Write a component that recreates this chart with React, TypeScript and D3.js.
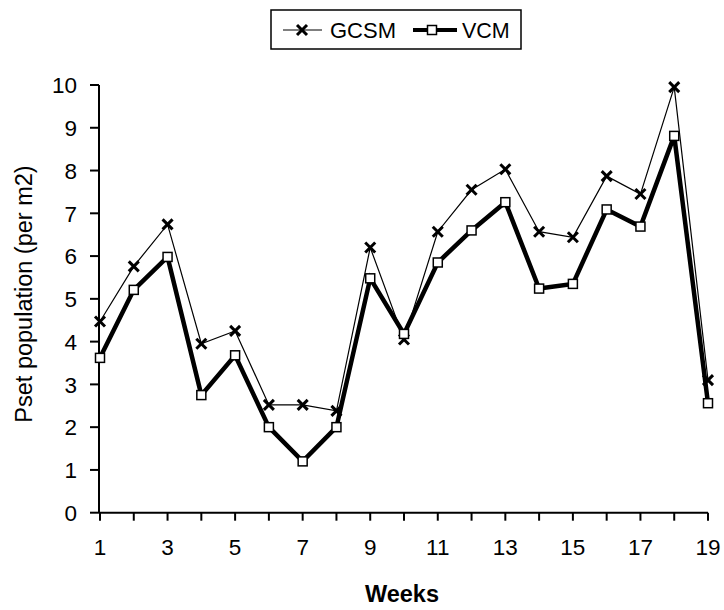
import React from "react";
import * as d3 from "d3";

const weeks = [1, 2, 3, 4, 5, 6, 7, 8, 9, 10, 11, 12, 13, 14, 15, 16, 17, 18, 19];
const gcsm = [4.47, 5.76, 6.74, 3.95, 4.25, 2.52, 2.52, 2.38, 6.2, 4.05, 6.57, 7.55, 8.03, 6.57, 6.44, 7.87, 7.45, 9.95, 3.1];
const vcm = [3.62, 5.21, 5.98, 2.75, 3.68, 2.0, 1.2, 2.0, 5.48, 4.18, 5.85, 6.6, 7.26, 5.24, 5.35, 7.09, 6.69, 8.81, 2.56];
const yTicks = [0, 1, 2, 3, 4, 5, 6, 7, 8, 9, 10];
const xLabelTicks = [1, 3, 5, 7, 9, 11, 13, 15, 17, 19];

const W = 724;
const H = 610;
const font = "Liberation Sans, Arial, sans-serif";

export default function App() {
  const x = d3.scaleLinear().domain([1, 19]).range([100, 708]);
  const y = d3.scaleLinear().domain([0, 10]).range([512.7, 85]);
  const line = d3
    .line<number>()
    .x((_, i) => x(weeks[i]))
    .y((d) => y(d));

  const cross = (cx: number, cy: number, key: string) => (
    <g key={key} stroke="#000" strokeWidth={3} strokeLinecap="butt">
      <line x1={cx - 5} y1={cy - 5} x2={cx + 5} y2={cy + 5} />
      <line x1={cx - 5} y1={cy + 5} x2={cx + 5} y2={cy - 5} />
    </g>
  );

  return (
    <svg width={W} height={H} style={{ position: "absolute", left: 0, top: 0, background: "#fff" }}>
      <rect x={0} y={0} width={W} height={H} fill="#fff" />
      {/* axes */}
      <line x1={x(1) - 1} y1={y(0)} x2={x(1) - 1} y2={y(10)} stroke="#000" strokeWidth={2} />
      <line x1={x(1) - 1} y1={y(0)} x2={x(19)} y2={y(0)} stroke="#000" strokeWidth={2} />
      {yTicks.map((t) => (
        <g key={"y" + t}>
          <line x1={x(1) - 10} x2={x(1) - 1} y1={y(t)} y2={y(t)} stroke="#000" strokeWidth={2} />
          <text x={77} y={y(t)} dy="0.37em" textAnchor="end" fontFamily={font} fontSize={22.5} fill="#000">
            {t}
          </text>
        </g>
      ))}
      {weeks.map((w) => (
        <line key={"xt" + w} x1={x(w)} x2={x(w)} y1={y(0)} y2={y(0) + 8} stroke="#000" strokeWidth={2} />
      ))}
      {xLabelTicks.map((w) => (
        <text key={"xl" + w} x={x(w)} y={555} textAnchor="middle" fontFamily={font} fontSize={22.5} fill="#000">
          {w}
        </text>
      ))}
      <text x={402} y={602} textAnchor="middle" fontFamily={font} fontSize={23.5} fontWeight="bold" fill="#000">
        Weeks
      </text>
      <text
        transform={`translate(32,294) rotate(-90)`}
        textAnchor="middle"
        fontFamily={font}
        fontSize={23.5}
        fill="#000"
      >
        Pset population (per m2)
      </text>

      {/* series */}
      <path d={line(gcsm) || ""} fill="none" stroke="#000" strokeWidth={1.2} />
      <path d={line(vcm) || ""} fill="none" stroke="#000" strokeWidth={4.5} strokeLinejoin="miter" />
      {gcsm.map((v, i) => cross(x(weeks[i]), y(v), "g" + i))}
      {vcm.map((v, i) => (
        <rect key={"v" + i} x={x(weeks[i]) - 4.5} y={y(v) - 4.5} width={9} height={9} fill="#fff" stroke="#000" strokeWidth={1.5} />
      ))}

      {/* legend */}
      <rect x={271} y={10} width={250} height={39} fill="#fff" stroke="#000" strokeWidth={1.5} />
      <line x1={283} x2={322} y1={30} y2={30} stroke="#000" strokeWidth={1.2} />
      {cross(302, 30, "lg")}
      <text x={330} y={38} fontFamily={font} fontSize={22} fill="#000">
        GCSM
      </text>
      <line x1={413} x2={457} y1={30} y2={30} stroke="#000" strokeWidth={4} />
      <rect x={427.5} y={25.5} width={9} height={9} fill="#fff" stroke="#000" strokeWidth={1.5} />
      <text x={462} y={38} fontFamily={font} fontSize={21.5} fill="#000">
        VCM
      </text>
    </svg>
  );
}
